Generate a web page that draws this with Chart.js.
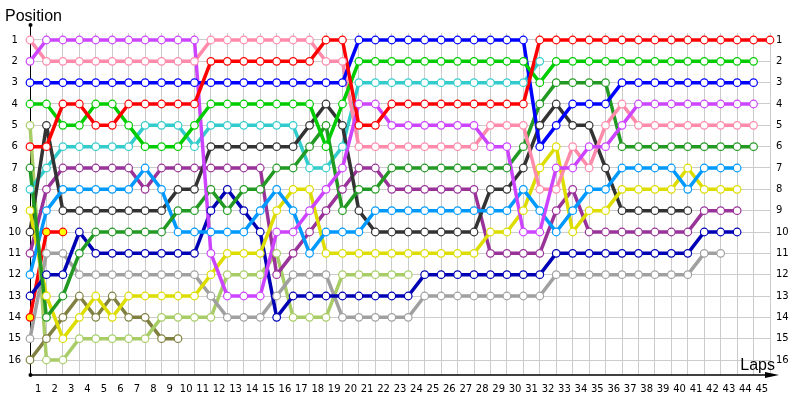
<!DOCTYPE html>
<html>
<head>
<meta charset="utf-8">
<script src="https://cdn.jsdelivr.net/npm/chart.js@4/dist/chart.umd.min.js"></script>
<style>
html,body{margin:0;padding:0;background:#fff;}
#wrap{width:800px;height:400px;position:relative;}
</style>
</head>
<body>
<div id="wrap"><canvas id="c"></canvas></div>
<script>
// ---- tick labels ----
const lapGrid = [0,1,2,3,4,5,6,7,8,9,10,11,12,13,14,15,16,17,18,19,20,21,22,23,24,25,26,27,28,29,30,31,32,33,34,35,36,37,38,39,40,41,42,43,44,45];
const lapTicks = [1,2,3,4,5,6,7,8,9,10,11,12,13,14,15,16,17,18,19,20,21,22,23,24,25,26,27,28,29,30,31,32,33,34,35,36,37,38,39,40,41,42,43,44,45];
const positionTicks = [1,2,3,4,5,6,7,8,9,10,11,12,13,14,15,16];

// ---- positions per lap (index = lap, starting at lap 0 = grid) ----
const redLead   = [6,6,4,4,5,5,4,4,4,4,4, 2,2,2,2,2,2,2, 1,1, 5,5, 4,4,4,4,4,4,4,4,4, 1,1,1,1,1,1,1,1,1,1,1,1,1,1,1];
const pink      = [1, 2,2,2,2,2,2,2,2,2,2, 1,1,1,1,1,1,1, 2,2, 6,6,6,6,6,6,6,6, 5,5,5, 8,8, 6,7,5,4, 5,5,5,5,5,5,5,5];
const violet    = [2, 1,1,1,1,1,1,1,1,1,1, 11,13,13,13,10,10,9,8,7, 4,4, 5,5,5,5,5,5, 6,6, 10,10, 7,7, 6,6, 5, 4,4,4,4,4,4,4,4];
const blue      = [3,3,3,3,3,3,3,3,3,3,3,3,3,3,3,3,3,3,3,3, 1,1,1,1,1,1,1,1,1,1,1, 6,5,4,4,4, 3,3,3,3,3,3,3,3,3];
const green     = [4,4,5,5,4,4,5,6,6,6,5, 4,4,4,4,4,4,4, 6,4, 2,2,2,2,2,2,2,2,2,2,2, 3, 2,2,2,2,2,2,2,2,2,2,2,2,2];
const cyan      = [8,7, 6,6,6,6,6, 5,5,5, 6, 5,5,5,5,5,5, 7,7,6, 3,3,3,3,3,3,3,3,3,3,3, 2];
const darkGray  = [10,5, 9,9,9,9,9,9,9, 8,8, 6,6,6,6,6,6, 5,4,5, 9, 10,10,10,10,10,10,10, 8,8,7,5,4,5,5,7, 9,9,9,9,9];
const forest    = [7,14,13,11, 10,10,10,10,10, 9,9, 8,9,8,8, 7,7, 6,5, 9, 8,8, 7,7,7,7,7,7,7,7, 6,4, 3,3,3,3, 6,6,6,6,6,6,6,6,6];
const purple    = [11,8, 7,7,7,7,7, 8, 7,7,7,7,7,7,7, 12,11,10,9,8, 7,7, 8,8,8,8,8,8, 11,11,11,11, 9,8, 10,10,10,10,10,10,10, 9,9,9];
const lightBlue = [12,9, 8,8,8,8,8, 7,8, 10,10,10,10,10, 9,8,9,11, 10,10,10, 9,9,9,9,9,9,9,9,9, 8,9,10,9,8,8, 7,7,7,7, 8, 7,7,7];
const yellow    = [9,13,15,14,13,14, 13,13,13,13,13, 12, 11,11,11, 9,8,8, 11,11,11,11,11,11,11,11,11,11, 10,10,9,7,6,10,9,9, 8,8,8,8, 7, 8,8,8];
const navy      = [13,12,12,10, 11,11,11,11,11,11,11, 9,8,9,10,14, 13,13,13,13,13,13,13,13, 12,12,12,12,12,12,12,12, 11,11,11,11,11,11,11,11,11, 10,10,10];
const gray      = [15,11,11, 12,12,12,12,12,12,12,12, 13,14,14,14,13, 12,12,12, 14,14,14,14,14, 13,13,13,13,13,13,13,13, 12,12,12,12,12,12,12,12,12, 11,11];
const lightGreen= [5,16,16, 15,15,15,15,15, 14,14,14,14, 12,12,12, 11, 14,14,14, 12,12,12,12,12];
const olive     = [16,15,14,13,14,13,14,14,15,15];
const redOut    = [14,10,10];

const drivers = [
  {label:'Red',        data:redLead,    color:'#ff0000'},
  {label:'Green',      data:green,      color:'#00cc00'},
  {label:'Blue',       data:blue,       color:'#0000ff'},
  {label:'Violet',     data:violet,     color:'#cc44ff'},
  {label:'Pink',       data:pink,       color:'#ff8aaa'},
  {label:'Forest',     data:forest,     color:'#229922'},
  {label:'Light blue', data:lightBlue,  color:'#0099ff'},
  {label:'Yellow',     data:yellow,     color:'#dddd00'},
  {label:'Dark',       data:darkGray,   color:'#333333'},
  {label:'Purple',     data:purple,     color:'#993399'},
  {label:'Navy',       data:navy,       color:'#0000b4'},
  {label:'Gray',       data:gray,       color:'#a0a0a0'},
  {label:'Cyan',       data:cyan,       color:'#33cccc'},
  {label:'Light green',data:lightGreen, color:'#a8cc66'},
  {label:'Olive',      data:olive,      color:'#808040'},
  {label:'Red 2',      data:redOut,     color:'#ff0000', fill:'#ffff00'}
];

const datasets = [];
drivers.forEach(d => {
  const pts = d.data.map((p, lap) => ({x: lap, y: p}));
  datasets.push({
    label: d.label, data: pts, xAxisID:'x', yAxisID:'y',
    borderColor: d.color, borderWidth: 3.5, borderJoinStyle:'round',
    pointRadius: 0, pointHoverRadius: 0, fill:false, tension:0, order:2, clip:false
  });
  datasets.push({
    label: d.label + ' pts', data: pts, xAxisID:'x', yAxisID:'y',
    showLine:false, pointRadius:3.8, pointHoverRadius:3.8, pointBorderWidth:1.2,
    pointBorderColor:d.color, pointBackgroundColor:d.fill || '#ffffff',
    order:1, clip:false
  });
});

const tickFont = {family:'DejaVu Sans', size:10};
const yMin = 0.672, yMax = 16.703;

const decor = {
  id:'decor',
  beforeDatasetsDraw(chart){
    const ctx = chart.ctx, a = chart.chartArea;
    ctx.save();
    ctx.strokeStyle = '#000';
    ctx.fillStyle = '#000';
    ctx.lineWidth = 1;
    ctx.beginPath(); ctx.moveTo(a.left + 0.5, 25); ctx.lineTo(a.left + 0.5, a.bottom); ctx.stroke();
    ctx.lineWidth = 1.5;
    ctx.beginPath(); ctx.moveTo(a.left, a.bottom); ctx.lineTo(a.right + 4, a.bottom); ctx.stroke();
    ctx.beginPath();
    ctx.moveTo(a.right + 9, a.bottom);
    ctx.lineTo(a.right - 5, a.bottom - 3);
    ctx.lineTo(a.right - 5, a.bottom + 3);
    ctx.closePath(); ctx.fill();
    ctx.beginPath(); ctx.arc(a.left + 0.5, 25, 2, 0, Math.PI*2); ctx.fill();
    ctx.beginPath(); ctx.arc(a.left + 0.5, a.bottom, 2, 0, Math.PI*2); ctx.fill();
    ctx.restore();
  },
  afterDraw(chart){
    const ctx = chart.ctx, a = chart.chartArea;
    ctx.save();
    ctx.fillStyle = '#000';
    ctx.font = '16px "Liberation Sans", Arial, sans-serif';
    ctx.textBaseline = 'alphabetic';
    ctx.textAlign = 'left';
    ctx.fillText('Position', 5, 21);
    ctx.textAlign = 'right';
    ctx.fillText('Laps', a.right + 5, 370);
    ctx.restore();
  }
};

new Chart(document.getElementById('c'), {
  type:'line',
  data:{datasets},
  options:{
    responsive:true, maintainAspectRatio:false, animation:false,
    layout:{padding:{top:33, left:0, right:0, bottom:0}},
    plugins:{legend:{display:false}, tooltip:{enabled:false}, title:{display:false}},
    events:[],
    scales:{
      x:{
        type:'linear', position:'bottom', min:0, max:45,
        afterBuildTicks: s => { s.ticks = lapGrid.map(v => ({value:v})); },
        grid:{color:'#cccccc', lineWidth:1, drawTicks:false},
        border:{display:false},
        ticks:{display:false},
        afterFit: s => { s.height = 0; }
      },
      xl:{
        type:'linear', position:'bottom', min:0.5, max:45.5,
        afterBuildTicks: s => { s.ticks = lapTicks.map(v => ({value:v})); },
        grid:{display:false, drawTicks:false},
        border:{display:false},
        ticks:{font:tickFont, color:'#000', padding:8, maxRotation:0, minRotation:0, autoSkip:false,
               callback: v => String(v)},
        afterFit: s => { s.height = 25; }
      },
      y:{
        type:'linear', position:'left', reverse:true, min:yMin, max:yMax,
        afterBuildTicks: s => { s.ticks = positionTicks.map(v => ({value:v})); },
        grid:{color:'#cccccc', lineWidth:1, drawTicks:false},
        border:{display:false},
        ticks:{font:tickFont, color:'#000', padding:9, crossAlign:'center', callback: v => String(v)},
        afterFit: s => { s.width = 30; }
      },
      y2:{
        type:'linear', position:'right', reverse:true, min:yMin, max:yMax,
        afterBuildTicks: s => { s.ticks = positionTicks.map(v => ({value:v})); },
        grid:{display:false, drawTicks:false},
        border:{display:false},
        ticks:{font:tickFont, color:'#000', padding:6, callback: v => String(v)},
        afterFit: s => { s.width = 30; }
      }
    }
  },
  plugins:[decor]
});
</script>
</body>
</html>
